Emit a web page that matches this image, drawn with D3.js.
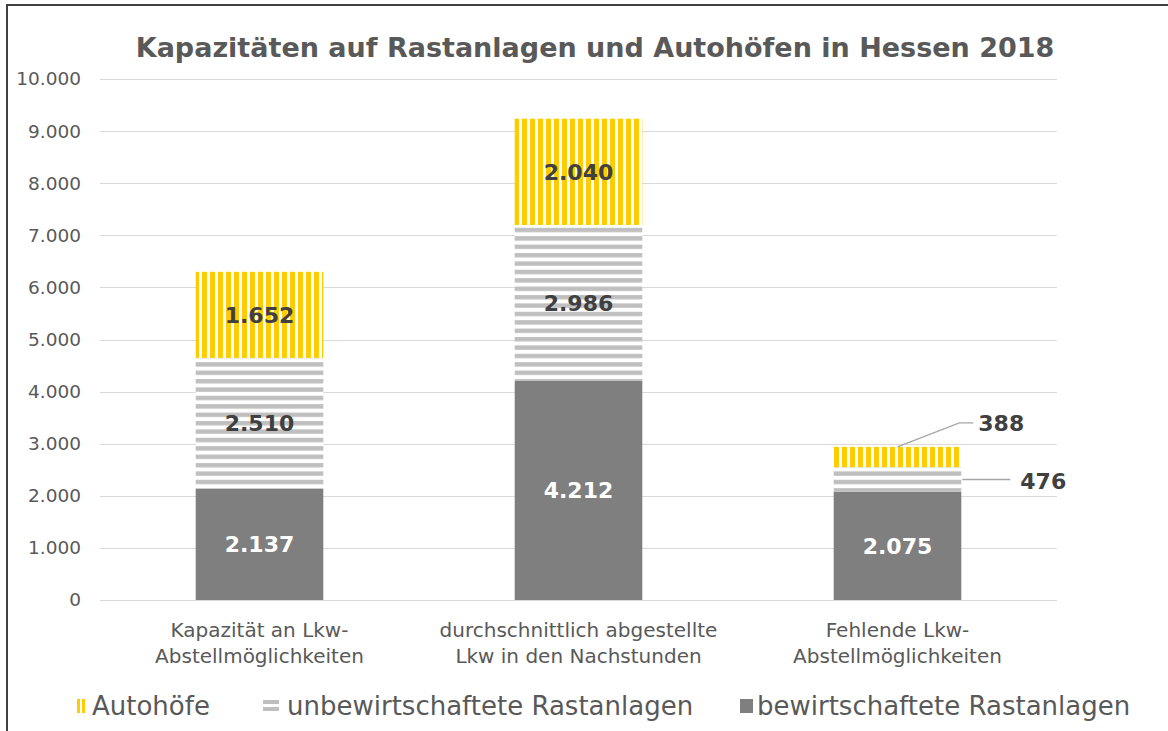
<!DOCTYPE html>
<html>
<head>
<meta charset="utf-8">
<script src="https://cdn.jsdelivr.net/npm/d3@7"></script>
<style>
  body { margin: 0; background: #fff; }
  svg { display: block; font-family: 'DejaVu Sans', sans-serif; }
</style>
</head>
<body>
<div id="chart"></div>
<script>
// Data
const categories = [
    'Kapazität an Lkw-|Abstellmöglichkeiten',
    'durchschnittlich abgestellte|Lkw in den Nachstunden',
    'Fehlende Lkw-|Abstellmöglichkeiten'
];
const seriesNames = ['bewirtschaftete Rastanlagen', 'unbewirtschaftete Rastanlagen', 'Autohöfe'];
const bewirtschaftet = [2137, 4212, 2075];
const unbewirtschaftet = [2510, 2986, 476];
const autohoefe = [1652, 2040, 388];
const yTicks = [0, 1000, 2000, 3000, 4000, 5000, 6000, 7000, 8000, 9000, 10000];
const legendOrder = ['Autohöfe', 'unbewirtschaftete Rastanlagen', 'bewirtschaftete Rastanlagen'];

const fmt = d3.formatLocale({ decimal: ',', thousands: '.', grouping: [3], currency: ['', '€'] }).format(',d');

const W = 1168, H = 731;
const svg = d3.select('#chart').append('svg')
    .attr('width', W)
    .attr('height', H);

// Patterns
const defs = svg.append('defs');
const pYellow = defs.append('pattern')
    .attr('id', 'p-yellow')
    .attr('patternUnits', 'userSpaceOnUse')
    .attr('width', 8).attr('height', 8);
pYellow.append('rect').attr('width', 8).attr('height', 8).attr('fill', '#fff');
pYellow.append('rect').attr('x', 2).attr('width', 5).attr('height', 8).attr('fill', '#ffcc00');

const pGray = defs.append('pattern')
    .attr('id', 'p-gray')
    .attr('patternUnits', 'userSpaceOnUse')
    .attr('width', 8).attr('height', 8.4);
pGray.append('rect').attr('width', 8).attr('height', 8.4).attr('fill', '#fff');
pGray.append('rect').attr('y', 1).attr('width', 8).attr('height', 4.4).attr('fill', '#bfbfbf');

const fills = {
    'bewirtschaftete Rastanlagen': '#7f7f7f',
    'unbewirtschaftete Rastanlagen': 'url(#p-gray)',
    'Autohöfe': 'url(#p-yellow)'
};

// Frame
svg.append('rect')
    .attr('x', 7).attr('y', 5)
    .attr('width', W + 20).attr('height', H + 20)
    .attr('fill', 'none')
    .attr('stroke', '#404040')
    .attr('stroke-width', 2);

// Title
svg.append('text')
    .attr('x', 595).attr('y', 57)
    .attr('text-anchor', 'middle')
    .attr('font-size', 27)
    .attr('font-weight', 'bold')
    .attr('fill', '#595959')
    .text('Kapazitäten auf Rastanlagen und Autohöfen in Hessen 2018');

// Scales
const x = d3.scaleBand()
    .domain(categories)
    .range([100, 1057])
    .paddingInner(0.6)
    .paddingOuter(0.3);

const y = d3.scaleLinear()
    .domain([0, 10000])
    .range([600, 79]);

// Grid
svg.append('g')
    .selectAll('line')
    .data(yTicks)
    .enter().append('line')
    .attr('x1', 100).attr('x2', 1057)
    .attr('y1', d => Math.round(y(d)) + 0.5)
    .attr('y2', d => Math.round(y(d)) + 0.5)
    .attr('stroke', '#d9d9d9')
    .attr('stroke-width', 1);

// Y axis labels
const yAxis = d3.axisLeft(y).tickValues(yTicks).tickFormat(fmt).tickSize(0).tickPadding(0);
svg.append('g')
    .attr('transform', 'translate(81,0)')
    .call(yAxis)
    .call(g => g.select('.domain').remove())
    .call(g => g.selectAll('text')
        .attr('font-family', "'DejaVu Sans', sans-serif")
        .attr('font-size', 18.5)
        .attr('fill', '#595959'));

// Stack
const table = categories.map((c, i) => ({
    category: c,
    'bewirtschaftete Rastanlagen': bewirtschaftet[i],
    'unbewirtschaftete Rastanlagen': unbewirtschaftet[i],
    'Autohöfe': autohoefe[i]
}));
const series = d3.stack().keys(seriesNames)(table);

const layers = svg.append('g')
    .selectAll('g')
    .data(series)
    .enter().append('g')
    .attr('fill', d => fills[d.key]);

layers.selectAll('rect')
    .data(d => d)
    .enter().append('rect')
    .attr('x', d => x(d.data.category))
    .attr('width', x.bandwidth())
    .attr('y', d => y(d[1]))
    .attr('height', d => y(d[0]) - y(d[1]));

// Value labels
const labels = [];
series.forEach(s => {
    s.forEach(d => {
        labels.push({ key: s.key, d: d, value: d[1] - d[0] });
    });
});

const lblG = svg.append('g')
    .attr('font-size', 22)
    .attr('font-weight', 'bold');

labels.forEach(l => {
    const h = y(l.d[0]) - y(l.d[1]);
    const cx = x(l.d.data.category) + x.bandwidth() / 2;
    const cy = (y(l.d[0]) + y(l.d[1])) / 2;
    if (h > 40) {
        lblG.append('text')
            .attr('x', cx)
            .attr('y', cy)
            .attr('dy', '0.36em')
            .attr('text-anchor', 'middle')
            .attr('fill', l.key === 'bewirtschaftete Rastanlagen' ? '#fff' : '#404040')
            .text(fmt(l.value));
    } else if (l.key === 'Autohöfe') {
        // small top segment: label above right with a leader line
        const x0 = cx, y0 = y(l.d[1]);
        const x1 = x(l.d.data.category) + x.bandwidth() - 2, y1 = y0 - 24;
        svg.append('polyline')
            .attr('points', `${x0},${y0} ${x1},${y1} ${x1 + 14},${y1}`)
            .attr('fill', 'none')
            .attr('stroke', '#a6a6a6')
            .attr('stroke-width', 1.3);
        lblG.append('text')
            .attr('x', x1 + 19)
            .attr('y', y1)
            .attr('dy', '0.36em')
            .attr('fill', '#404040')
            .text(fmt(l.value));
    } else {
        // small middle segment: label right with a leader line
        const x0 = x(l.d.data.category) + x.bandwidth() + 1;
        svg.append('line')
            .attr('x1', x0).attr('x2', x0 + 48)
            .attr('y1', cy).attr('y2', cy)
            .attr('stroke', '#a6a6a6')
            .attr('stroke-width', 1.3);
        lblG.append('text')
            .attr('x', x0 + 58)
            .attr('y', cy + 2)
            .attr('dy', '0.36em')
            .attr('fill', '#404040')
            .text(fmt(l.value));
    }
});

// X axis labels
const xLab = svg.append('g')
    .attr('font-size', 20)
    .attr('fill', '#595959')
    .attr('text-anchor', 'middle');
categories.forEach(c => {
    const t = xLab.append('text')
        .attr('x', x(c) + x.bandwidth() / 2)
        .attr('y', 637);
    c.split('|').forEach((line, i) => {
        t.append('tspan')
            .attr('x', x(c) + x.bandwidth() / 2)
            .attr('dy', i === 0 ? 0 : 26)
            .text(line);
    });
});

// Legend
const legendX = [77, 263, 740];
const legend = svg.append('g');
legendOrder.forEach((name, i) => {
    const g = legend.append('g').attr('transform', `translate(${legendX[i]},699)`);
    if (name === 'Autohöfe') {
        g.append('rect').attr('x', 0).attr('width', 3).attr('height', 14).attr('fill', '#ffcc00');
        g.append('rect').attr('x', 5).attr('width', 3).attr('height', 14).attr('fill', '#ffcc00');
    } else if (name === 'unbewirtschaftete Rastanlagen') {
        g.append('rect').attr('y', 1).attr('width', 16).attr('height', 4).attr('fill', '#bfbfbf');
        g.append('rect').attr('y', 8).attr('width', 16).attr('height', 4).attr('fill', '#bfbfbf');
    } else {
        g.append('rect').attr('width', 13).attr('height', 14).attr('fill', '#7f7f7f');
    }
    g.append('text')
        .attr('x', name === 'Autohöfe' ? 15 : (name === 'bewirtschaftete Rastanlagen' ? 17 : 24))
        .attr('y', 7)
        .attr('dy', '0.36em')
        .attr('font-size', 26)
        .attr('fill', '#595959')
        .text(name);
});
</script>
</body>
</html>
